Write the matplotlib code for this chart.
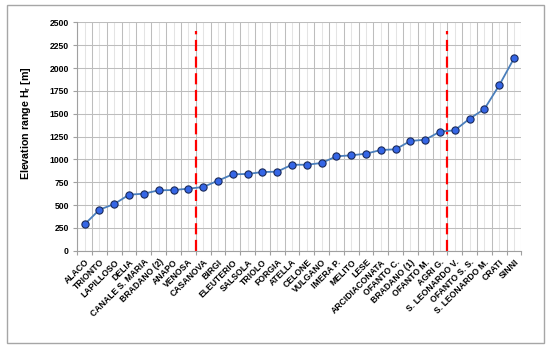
import matplotlib
matplotlib.use("Agg")
import matplotlib.pyplot as plt
from matplotlib.patches import Rectangle
import numpy as np

names = ["ALACO", "TRIONTO", "LAPILLOSO", "DELIA", "CANALE S. MARIA", "BRADANO (2)",
         "ANAPO", "VENOSA", "CASANOVA", "BIRGI", "ELEUTERIO", "SALSOLA", "TRIOLO",
         "FORGIA", "ATELLA", "CELONE", "VULGANO", "IMERA P.", "MELITO", "LESE",
         "ARCIDIACONATA", "OFANTO C.", "BRADANO (1)", "OFANTO M.", "AGRI G.",
         "S. LEONARDO V.", "OFANTO S. S.", "S. LEONARDO M.", "CRATI", "SINNI"]
elevation = [289, 449, 511, 613, 624, 661, 664, 679, 697, 766, 836, 840, 861, 865,
             941, 941, 960, 1033, 1044, 1062, 1102, 1110, 1201, 1215, 1303, 1318,
             1445, 1551, 1810, 2106]
split_after = ["VENOSA", "AGRI G."]
y_ticks = [0, 250, 500, 750, 1000, 1250, 1500, 1750, 2000, 2250, 2500]

plt.rcParams['font.family'] = ['Liberation Sans', 'DejaVu Sans']

fig = plt.figure(figsize=(5.5, 3.49), dpi=100)
ax = fig.add_axes([0.1405, 0.2817, 0.8075, 0.6543])

x = np.arange(len(names))
ax.set_xlim(-0.5, len(names) - 0.5)
ax.set_ylim(0, 2500)

# grid
for b in np.arange(-0.5, len(names), 1.0):
    ax.axvline(b, color='#bdbdbd', lw=0.75, zorder=0)
for c in x:
    ax.axvline(c, color='#e4e4e4', lw=0.75, zorder=0)
for t in y_ticks:
    ax.axhline(t, color='#bdbdbd', lw=0.75, zorder=0)

ax.plot(x, elevation, color='#4a7ebb', lw=1.3, marker='o', markersize=5.2,
        markerfacecolor='#3566e6', markeredgecolor='#1a2a5a', markeredgewidth=0.8, zorder=3)

for n in split_after:
    i = names.index(n)
    ax.plot([i + 0.5, i + 0.5], [0, 2400], color='#ff0000', lw=1.6,
            dashes=(5, 2.5), zorder=2)

ax.set_xticks(np.arange(-0.5, len(names), 1.0))
ax.set_xticklabels([])
ax.set_xticks(x, minor=True)
ax.set_xticklabels(names, minor=True, rotation=45, ha='right', va='top',
                   rotation_mode='anchor', fontsize=6.2, fontweight='bold')
ax.tick_params(axis='x', which='major', length=3, color='#a0a0a0', direction='out')
ax.tick_params(axis='x', which='minor', length=0, pad=5)

ax.set_yticks(y_ticks)
ax.set_yticklabels([str(t) for t in y_ticks], fontsize=6.2, fontweight='bold')
ax.tick_params(axis='y', length=3, color='#a0a0a0', pad=3)

for s in ['top', 'right']:
    ax.spines[s].set_visible(False)
for s in ['left', 'bottom']:
    ax.spines[s].set_color('#a0a0a0')
    ax.spines[s].set_linewidth(0.8)

ax.set_ylabel('Elevation range H$_\\mathregular{r}$ [m]', fontsize=7.7, fontweight='bold')
ax.yaxis.set_label_coords(-0.10, 0.56)

fig.patches.append(Rectangle((6.5 / 550, 1 - 343 / 349), (544 - 6.5) / 550, (343 - 5) / 349,
                             transform=fig.transFigure, fill=False,
                             edgecolor='#a6a6a6', lw=1.0))

fig.savefig('out.png', dpi=100)
